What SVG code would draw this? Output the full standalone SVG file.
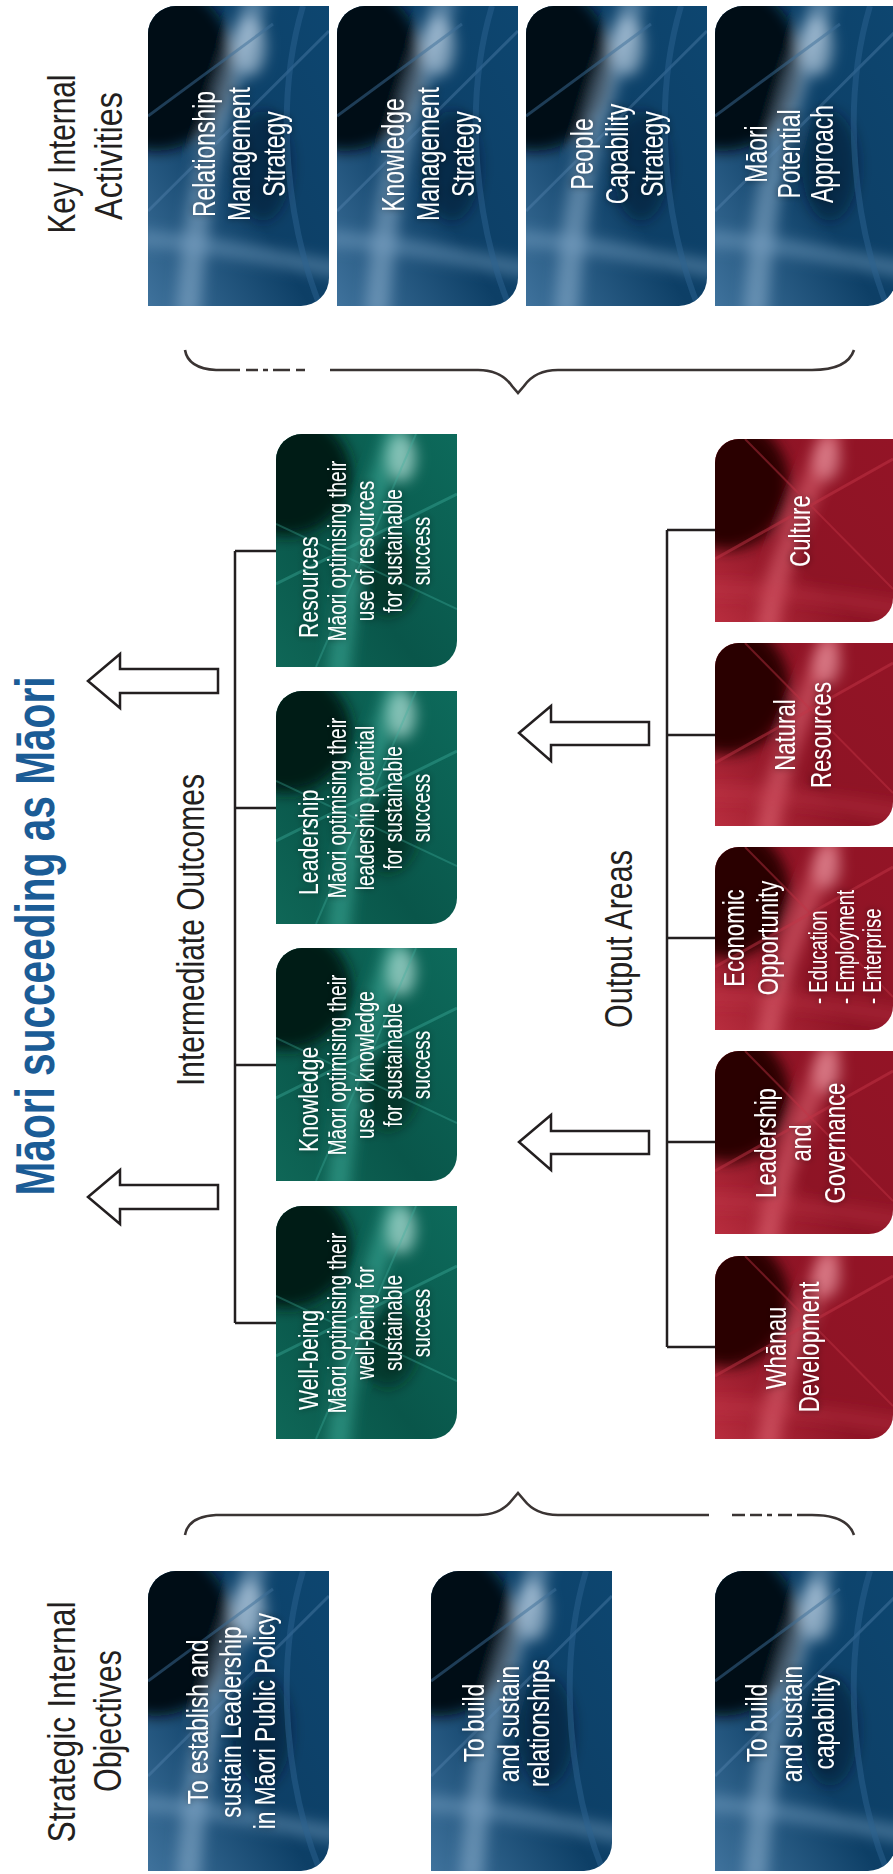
<svg xmlns="http://www.w3.org/2000/svg" xmlns:xlink="http://www.w3.org/1999/xlink" width="893" height="1874" viewBox="0 0 893 1874">
<style>
.hd{font-family:'Liberation Sans',Arial,sans-serif;font-size:38px;fill:#231f20}
.ttl{font-family:'Liberation Sans',Arial,sans-serif;font-size:56px;font-weight:bold;fill:#1b5c96}
.bx{font-family:'Liberation Sans',Arial,sans-serif;fill:#fff}
.b31{font-size:31px}
.b30{font-size:30px}
.g28{font-size:28px}
.g25{font-size:25px}
.r30{font-size:30px}
.r25{font-size:25px}
.ln{fill:none;stroke:#231f20;stroke-width:2.5}
.arr{fill:#fff;stroke:#231f20;stroke-width:2.5;stroke-linejoin:miter}
.br{fill:none;stroke:#3a3433;stroke-width:2.6;stroke-linecap:butt}
</style>
<defs>
<filter id="bl" x="-30%" y="-30%" width="160%" height="160%"><feGaussianBlur stdDeviation="7"/></filter>
<filter id="ts" x="-20%" y="-20%" width="140%" height="140%"><feDropShadow dx="0" dy="0" stdDeviation="3" flood-color="#000" flood-opacity="0.45"/></filter>
<clipPath id="cpB"><path d="M0,28 A28,28 0 0 1 28,0 H181 V272 A28,28 0 0 1 153,300 H0 Z"/></clipPath>
<clipPath id="cpG"><path d="M0,26 A26,26 0 0 1 26,0 H181 V207 A26,26 0 0 1 155,233 H0 Z"/></clipPath>
<clipPath id="cpR"><path d="M0,24 A24,24 0 0 1 24,0 H178 V159 A24,24 0 0 1 154,183 H0 Z"/></clipPath>
<linearGradient id="gB" x1="1" y1="0" x2="0" y2="1"><stop offset="0" stop-color="#0d4670"/><stop offset="0.55" stop-color="#0d3f66"/><stop offset="1" stop-color="#3f729c"/></linearGradient>
<linearGradient id="gG" x1="1" y1="0" x2="0" y2="1"><stop offset="0" stop-color="#0d6a5b"/><stop offset="0.6" stop-color="#09564a"/><stop offset="1" stop-color="#0f6757"/></linearGradient>
<linearGradient id="gR" x1="1" y1="0" x2="0" y2="1"><stop offset="0" stop-color="#931426"/><stop offset="0.6" stop-color="#8e1425"/><stop offset="1" stop-color="#b82d3e"/></linearGradient>
<g id="bgB" clip-path="url(#cpB)">
<rect width="181" height="300" fill="url(#gB)"/>
<g filter="url(#bl)">
<ellipse cx="8" cy="60" rx="78" ry="85" fill="#010c18"/>
<path d="M108,-10 C92,60 52,120 40,310" stroke="#a3c3de" stroke-opacity="0.45" stroke-width="24" fill="none"/>
<path d="M-10,232 C70,238 120,252 195,264" stroke="#7ea6c8" stroke-opacity="0.45" stroke-width="16" fill="none"/>
<ellipse cx="102" cy="40" rx="16" ry="30" fill="#cfe0ee" opacity="0.55"/>
<ellipse cx="115" cy="160" rx="28" ry="55" fill="#03182b" opacity="0.5"/>
</g>
<path d="M0,205 L181,25" stroke="#5e8db6" stroke-opacity="0.35" stroke-width="3"/>
<path d="M0,110 L125,18" stroke="#3b6d98" stroke-opacity="0.5" stroke-width="3"/>
<path d="M155,0 C125,100 140,220 172,300" stroke="#2b6290" stroke-opacity="0.5" stroke-width="6" fill="none"/>
</g>
<g id="bgG" clip-path="url(#cpG)">
<rect width="181" height="233" fill="url(#gG)"/>
<g filter="url(#bl)">
<ellipse cx="10" cy="40" rx="65" ry="62" fill="#011a15"/>
<path d="M122,-10 C102,60 72,120 62,245" stroke="#4cc0ad" stroke-opacity="0.45" stroke-width="22" fill="none"/>
<ellipse cx="126" cy="24" rx="14" ry="24" fill="#bde8df" opacity="0.65"/>
<ellipse cx="112" cy="140" rx="30" ry="42" fill="#01201a" opacity="0.55"/>
</g>
<path d="M0,150 L181,60" stroke="#3fb09d" stroke-opacity="0.4" stroke-width="3"/>
<path d="M40,233 L140,0" stroke="#3fb09d" stroke-opacity="0.35" stroke-width="2"/>
<path d="M0,90 L181,175" stroke="#3fb09d" stroke-opacity="0.35" stroke-width="2"/>
</g>
<g id="bgR" clip-path="url(#cpR)">
<rect width="178" height="183" fill="url(#gR)"/>
<g filter="url(#bl)">
<ellipse cx="12" cy="45" rx="62" ry="66" fill="#2a0004"/>
<path d="M118,-10 C98,50 62,110 52,195" stroke="#ea6f7f" stroke-opacity="0.5" stroke-width="22" fill="none"/>
<path d="M-10,150 C60,150 120,160 190,170" stroke="#c9404f" stroke-opacity="0.35" stroke-width="14" fill="none"/>
<ellipse cx="112" cy="20" rx="14" ry="22" fill="#f3a9b3" opacity="0.5"/>
</g>
<path d="M0,120 L178,20" stroke="#c23445" stroke-opacity="0.5" stroke-width="3"/>
<path d="M30,0 L178,150" stroke="#c23445" stroke-opacity="0.45" stroke-width="2"/>
</g>
</defs>
<rect width="893" height="1874" fill="#fff"/>

<g id="title">
<text class="ttl" transform="translate(54,936) rotate(-90)" text-anchor="middle" textLength="519" lengthAdjust="spacingAndGlyphs">Māori succeeding as Māori</text>
</g>
<g id="label-key-internal-activities">
<text class="hd" transform="translate(75,154) rotate(-90)" text-anchor="middle" textLength="159" lengthAdjust="spacingAndGlyphs">Key Internal</text>
<text class="hd" transform="translate(122,156) rotate(-90)" text-anchor="middle" textLength="128" lengthAdjust="spacingAndGlyphs">Activities</text>
</g>
<g id="label-strategic-internal-objectives">
<text class="hd" transform="translate(75,1722) rotate(-90)" text-anchor="middle" textLength="241" lengthAdjust="spacingAndGlyphs">Strategic Internal</text>
<text class="hd" transform="translate(121,1721) rotate(-90)" text-anchor="middle" textLength="142" lengthAdjust="spacingAndGlyphs">Objectives</text>
</g>
<g id="label-intermediate-outcomes">
<text class="hd" transform="translate(204,930) rotate(-90)" text-anchor="middle" textLength="312" lengthAdjust="spacingAndGlyphs">Intermediate Outcomes</text>
</g>
<g id="label-output-areas">
<text class="hd" transform="translate(632,939) rotate(-90)" text-anchor="middle" textLength="178" lengthAdjust="spacingAndGlyphs">Output Areas</text>
</g>

<g id="connectors">
<path class="ln" d="M235,551 V1323 M235,551 H277 M235,808 H277 M235,1065 H277 M235,1323 H277"/>
<path class="ln" d="M667,530 V1347 M667,530 H715 M667,735 H715 M667,938 H715 M667,1142 H715 M667,1347 H715"/>
<path class="arr" d="M88,681 L120,654 L120,669 L218,669 L218,693 L120,693 L120,708 Z"/>
<path class="arr" d="M88,1197 L120,1170 L120,1185 L218,1185 L218,1209 L120,1209 L120,1224 Z"/>
<path class="arr" d="M519,733 L551,706 L551,722 L649,722 L649,745 L551,745 L551,761 Z"/>
<path class="arr" d="M519,1142 L551,1115 L551,1131 L649,1131 L649,1154 L551,1154 L551,1170 Z"/>
<path class="br" d="M185,350 C187,362 198,369 216,370 H240 M246,370 H258 M263,370 H268 M273,370 H290 M296,370 H305 M330,370 H478 C495,370 505,376 512,386 L518,393 L524,386 C531,376 541,370 558,370 H812 C838,370 850,362 854,350"/>
<path class="br" d="M185,1535 C187,1523 198,1516 216,1515 H478 C495,1515 505,1509 512,1500 L518,1493 L524,1500 C531,1509 541,1515 558,1515 H709 M732,1515 H745 M750,1515 H762 M767,1515 H772 M778,1515 H792 M797,1515 H812 C838,1515 850,1523 854,1535"/>
</g>

<g id="kia-relationship">
<use href="#bgB" x="148" y="6"/>
<g class="bx b31" filter="url(#ts)" text-anchor="middle">
<text transform="translate(215,154) rotate(-90) scale(0.74,1)">Relationship</text>
<text transform="translate(250,154) rotate(-90) scale(0.74,1)">Management</text>
<text transform="translate(285,154) rotate(-90) scale(0.74,1)">Strategy</text>
</g>
</g>
<g id="kia-knowledge">
<use href="#bgB" x="337" y="6"/>
<g class="bx b31" filter="url(#ts)" text-anchor="middle">
<text transform="translate(404,155) rotate(-90) scale(0.74,1)">Knowledge</text>
<text transform="translate(439,154) rotate(-90) scale(0.74,1)">Management</text>
<text transform="translate(474,154) rotate(-90) scale(0.74,1)">Strategy</text>
</g>
</g>
<g id="kia-people">
<use href="#bgB" x="526" y="6"/>
<g class="bx b31" filter="url(#ts)" text-anchor="middle">
<text transform="translate(593,154) rotate(-90) scale(0.74,1)">People</text>
<text transform="translate(628,154) rotate(-90) scale(0.74,1)">Capability</text>
<text transform="translate(663,154) rotate(-90) scale(0.74,1)">Strategy</text>
</g>
</g>
<g id="kia-maori-potential">
<use href="#bgB" x="715" y="6"/>
<g class="bx b31" filter="url(#ts)" text-anchor="middle">
<text transform="translate(767,154) rotate(-90) scale(0.74,1)">Māori</text>
<text transform="translate(800,154) rotate(-90) scale(0.74,1)">Potential</text>
<text transform="translate(833,154) rotate(-90) scale(0.74,1)">Approach</text>
</g>
</g>

<g id="io-resources">
<use href="#bgG" x="276" y="434"/>
<g class="bx" filter="url(#ts)">
<text class="g28" transform="translate(318,638) rotate(-90) scale(0.76,1)">Resources</text>
<g class="g25" text-anchor="middle">
<text transform="translate(346,551) rotate(-90) scale(0.76,1)">Māori optimising their</text>
<text transform="translate(374,551) rotate(-90) scale(0.76,1)">use of resources</text>
<text transform="translate(402,551) rotate(-90) scale(0.76,1)">for sustainable</text>
<text transform="translate(430,551) rotate(-90) scale(0.76,1)">success</text>
</g>
</g>
</g>
<g id="io-leadership">
<use href="#bgG" x="276" y="691"/>
<g class="bx" filter="url(#ts)">
<text class="g28" transform="translate(318,895) rotate(-90) scale(0.76,1)">Leadership</text>
<g class="g25" text-anchor="middle">
<text transform="translate(346,808) rotate(-90) scale(0.76,1)">Māori optimising their</text>
<text transform="translate(374,808) rotate(-90) scale(0.76,1)">leadership potential</text>
<text transform="translate(402,808) rotate(-90) scale(0.76,1)">for sustainable</text>
<text transform="translate(430,808) rotate(-90) scale(0.76,1)">success</text>
</g>
</g>
</g>
<g id="io-knowledge">
<use href="#bgG" x="276" y="948"/>
<g class="bx" filter="url(#ts)">
<text class="g28" transform="translate(318,1152) rotate(-90) scale(0.76,1)">Knowledge</text>
<g class="g25" text-anchor="middle">
<text transform="translate(346,1065) rotate(-90) scale(0.76,1)">Māori optimising their</text>
<text transform="translate(374,1065) rotate(-90) scale(0.76,1)">use of knowledge</text>
<text transform="translate(402,1065) rotate(-90) scale(0.76,1)">for sustainable</text>
<text transform="translate(430,1065) rotate(-90) scale(0.76,1)">success</text>
</g>
</g>
</g>
<g id="io-wellbeing">
<use href="#bgG" x="276" y="1206"/>
<g class="bx" filter="url(#ts)">
<text class="g28" transform="translate(318,1410) rotate(-90) scale(0.76,1)">Well-being</text>
<g class="g25" text-anchor="middle">
<text transform="translate(346,1323) rotate(-90) scale(0.76,1)">Māori optimising their</text>
<text transform="translate(374,1323) rotate(-90) scale(0.76,1)">well-being for</text>
<text transform="translate(402,1323) rotate(-90) scale(0.76,1)">sustainable</text>
<text transform="translate(430,1323) rotate(-90) scale(0.76,1)">success</text>
</g>
</g>
</g>

<g id="oa-culture">
<use href="#bgR" x="715" y="439"/>
<g class="bx r30" filter="url(#ts)" text-anchor="middle">
<text transform="translate(810,531) rotate(-90) scale(0.74,1)">Culture</text>
</g>
</g>
<g id="oa-natural-resources">
<use href="#bgR" x="715" y="643"/>
<g class="bx r30" filter="url(#ts)" text-anchor="middle">
<text transform="translate(795,735) rotate(-90) scale(0.74,1)">Natural</text>
<text transform="translate(831,735) rotate(-90) scale(0.74,1)">Resources</text>
</g>
</g>
<g id="oa-economic-opportunity">
<use href="#bgR" x="715" y="847"/>
<g class="bx" filter="url(#ts)">
<g class="r30" text-anchor="middle">
<text transform="translate(744,938) rotate(-90) scale(0.74,1)">Economic</text>
<text transform="translate(778,938) rotate(-90) scale(0.74,1)">Opportunity</text>
</g>
<g class="r25">
<text transform="translate(827,1004) rotate(-90) scale(0.74,1)">- Education</text>
<text transform="translate(854,1004) rotate(-90) scale(0.74,1)">- Employment</text>
<text transform="translate(881,1004) rotate(-90) scale(0.74,1)">- Enterprise</text>
</g>
</g>
</g>
<g id="oa-leadership-governance">
<use href="#bgR" x="715" y="1051"/>
<g class="bx r30" filter="url(#ts)" text-anchor="middle">
<text transform="translate(776,1143) rotate(-90) scale(0.74,1)">Leadership</text>
<text transform="translate(811,1143) rotate(-90) scale(0.74,1)">and</text>
<text transform="translate(845,1143) rotate(-90) scale(0.74,1)">Governance</text>
</g>
</g>
<g id="oa-whanau-development">
<use href="#bgR" x="715" y="1256"/>
<g class="bx r30" filter="url(#ts)" text-anchor="middle">
<text transform="translate(786,1348) rotate(-90) scale(0.74,1)">Whānau</text>
<text transform="translate(819,1347) rotate(-90) scale(0.74,1)">Development</text>
</g>
</g>

<g id="sio-leadership">
<use href="#bgB" x="148" y="1571"/>
<g class="bx b30" filter="url(#ts)" text-anchor="middle">
<text transform="translate(208,1722) rotate(-90) scale(0.76,1)">To establish and</text>
<text transform="translate(241,1722) rotate(-90) scale(0.76,1)">sustain Leadership</text>
<text transform="translate(275,1721) rotate(-90) scale(0.76,1)">in Māori Public Policy</text>
</g>
</g>
<g id="sio-relationships">
<use href="#bgB" x="431" y="1571"/>
<g class="bx b30" filter="url(#ts)" text-anchor="middle">
<text transform="translate(484,1723) rotate(-90) scale(0.76,1)">To build</text>
<text transform="translate(519,1724) rotate(-90) scale(0.76,1)">and sustain</text>
<text transform="translate(549,1723) rotate(-90) scale(0.76,1)">relationships</text>
</g>
</g>
<g id="sio-capability">
<use href="#bgB" x="715" y="1571"/>
<g class="bx b30" filter="url(#ts)" text-anchor="middle">
<text transform="translate(767,1723) rotate(-90) scale(0.76,1)">To build</text>
<text transform="translate(802,1724) rotate(-90) scale(0.76,1)">and sustain</text>
<text transform="translate(834,1722) rotate(-90) scale(0.76,1)">capability</text>
</g>
</g>
</svg>
